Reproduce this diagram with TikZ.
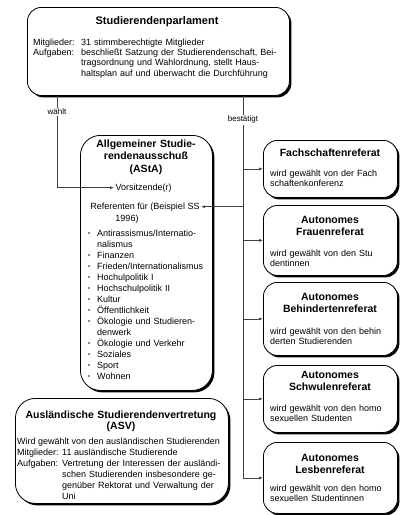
\documentclass[tikz,border=0pt]{standalone}
\usepackage{fontspec}
\setmainfont{Liberation Sans}
\usetikzlibrary{arrows.meta,shadows}
\newcommand{\jl}[1]{\makebox[\linewidth][s]{#1}}
\newcommand{\bul}{\makebox[9pt][l]{\raisebox{1pt}{\fontsize{6}{6}\selectfont •}}}
\newcommand{\ind}{\hspace*{9pt}}
\begin{document}
\begin{tikzpicture}[x=1pt,y=-1pt,
  box/.style={draw=black, line width=0.8pt, fill=white, rounded corners=#1,
    inner sep=0pt, anchor=north west,
    drop shadow={shadow xshift=2pt, shadow yshift=-2pt, fill=black, opacity=1}},
  body/.style={font=\fontsize{9}{10.4}\selectfont, inner sep=0pt},
  ttl/.style={font=\fontsize{10.5}{12}\selectfont\bfseries, inner sep=0pt, align=center, text width=130pt},
  lbl/.style={font=\fontsize{8}{9}\selectfont, fill=white, inner sep=1pt},
  conn/.style={draw=black!75, line width=0.6pt},
  arr/.style={conn, -{Latex[length=4pt,width=3pt]}}
]
\useasboundingbox[fill=white] (0,0) rectangle (407,515);

% ---------- boxes ----------
\node[box=14pt, minimum width=262pt, minimum height=88pt] (parl) at (27,7) {};
\node[box=20pt, minimum width=132pt, minimum height=255pt] (asta) at (80,135) {};
\node[box=20pt, minimum width=213pt, minimum height=105pt] (asv) at (15,398) {};
\node[box=14pt, minimum width=134pt, minimum height=57pt] (fach) at (263,140) {};
\node[box=14pt, minimum width=134pt, minimum height=70pt] (frau) at (263,205) {};
\node[box=14pt, minimum width=134pt, minimum height=73pt] (behi) at (263,282) {};
\node[box=14pt, minimum width=134pt, minimum height=67pt] (schw) at (263,365) {};
\node[box=14pt, minimum width=134pt, minimum height=71pt] (lesb) at (263,442) {};

% ---------- Studierendenparlament ----------
\node[ttl, text width=250pt, font=\fontsize{11}{13}\selectfont\bfseries, anchor=base] (parlT) at (157,24) {Studierendenparlament};
\node[body, anchor=base west] (parlM) at (33,45) {Mitglieder:};
\node[body, anchor=base west] (parlA) at (33,55.4) {Aufgaben:};
\node[body, anchor=base west, text width=202pt, align=left] (parlB) at (81,45) {%
31 stimmberechtigte Mitglieder\par
\jl{beschließt Satzung der Studierendenschaft, Bei-}\par
\jl{tragsordnung und Wahlordnung, stellt Haus-}\par
haltsplan auf und überwacht die Durchführung};

% ---------- AStA ----------
\node[ttl, anchor=base, text width=125pt, font=\fontsize{10.5}{12.6}\selectfont\bfseries] (astaT) at (146,147)
  {Allgemeiner Studie-\\rendenausschuß\\(AStA)};
\node[body, anchor=base west, inner sep=1.5pt] (vor) at (114,190) {Vorsitzende(r)};
\node[body, anchor=base, inner sep=1.5pt] (ref) at (145,209) {Referenten für (Beispiel SS};
\node[body, anchor=base] (ref2) at (127,221) {1996)};
\node[body, anchor=base west, text width=112pt, align=left, font=\fontsize{9}{11}\selectfont] (list) at (88,236) {%
\bul Antirassismus/Internatio-\\
\ind nalismus\\
\bul Finanzen\\
\bul Frieden/Internationalismus\\
\bul Hochulpolitik I\\
\bul Hochschulpolitik II\\
\bul Kultur\\
\bul Öffentlichkeit\\
\bul \makebox[101pt][s]{Ökologie und Studieren-}\\
\ind denwerk\\
\bul Ökologie und Verkehr\\
\bul Soziales\\
\bul Sport\\
\bul Wohnen};

% ---------- ASV ----------
\node[ttl, anchor=base, text width=210pt, font=\fontsize{10.5}{11.2}\selectfont\bfseries] (asvT) at (121,418)
  {Ausländische Studierendenvertretung\\(ASV)};
\node[body, anchor=base west] (asv1) at (17,444) {Wird gewählt von den ausländischen Studierenden};
\node[body, anchor=base west] (asvM) at (17,455) {Mitglieder:};
\node[body, anchor=base west] (asvA) at (17,466) {Aufgaben:};
\node[body, anchor=base west] (asvM2) at (62,455) {11 ausländische Studierende};
\node[body, anchor=base west, text width=200pt, align=left, font=\fontsize{9}{11}\selectfont] (asvA2) at (62,466) {%
Vertretung der Interessen der ausländi-\\
schen Studierenden insbesondere ge-\\
genüber Rektorat und Verwaltung der\\
Uni};

% ---------- right column ----------
\node[ttl, anchor=base] (fachT) at (330,156) {Fachschaftenreferat};
\node[body, anchor=base west, text width=122pt, align=left] (fachB) at (270,176)
  {\jl{wird gewählt von der Fach}\par schaftenkonferenz};

\node[ttl, anchor=base] (frauT) at (330,223) {Autonomes\\Frauenreferat};
\node[body, anchor=base west, text width=122pt, align=left] (frauB) at (270,256)
  {\jl{wird gewählt von den Stu}\par dentinnen};

\node[ttl, anchor=base] (behiT) at (330,300) {Autonomes\\Behindertenreferat};
\node[body, anchor=base west, text width=122pt, align=left] (behiB) at (270,334)
  {\jl{wird gewählt von den behin}\par derten Studierenden};

\node[ttl, anchor=base] (schwT) at (330,378) {Autonomes\\Schwulenreferat};
\node[body, anchor=base west, text width=122pt, align=left] (schwB) at (270,411)
  {\jl{wird gewählt von den homo}\par sexuellen Studenten};

\node[ttl, anchor=base] (lesbT) at (330,461) {Autonomes\\Lesbenreferat};
\node[body, anchor=base west, text width=122pt, align=left] (lesbB) at (270,491)
  {\jl{wird gewählt von den homo}\par sexuellen Studentinnen};

% ---------- connectors ----------
\coordinate (wtop) at ([xshift=30pt]parl.south west);
\coordinate (btop) at ([xshift=216pt]parl.south west);
\draw[arr] (wtop) |- (vor.west);
\draw[conn] (btop) -- (btop |- lesb.west);
\draw[arr] (btop |- ref.east) -- (ref.east);
\draw[arr] (btop |- fach.west) -- (fach.west);
\draw[arr] (btop |- frau.west) -- (frau.west);
\draw[arr] (btop |- behi.west) -- (behi.west);
\draw[arr] (btop |- schw.west) -- (schw.west);
\draw[arr] (btop |- lesb.west) -- (lesb.west);
\node[lbl] (wl) at ([yshift=-16pt]wtop) {wählt};
\node[lbl] (bl) at ([yshift=-24pt]btop) {bestätigt};
\end{tikzpicture}
\end{document}
